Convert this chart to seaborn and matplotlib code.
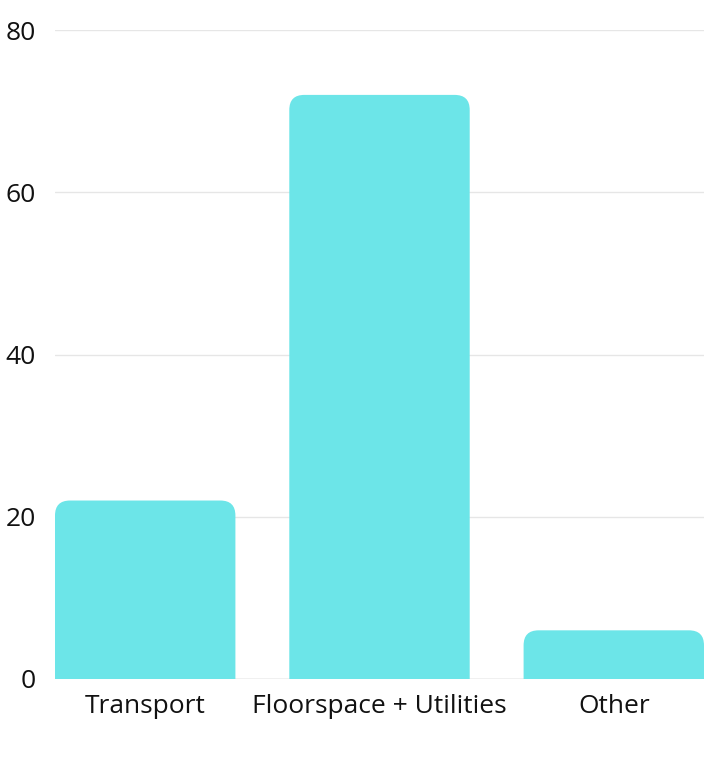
import matplotlib
matplotlib.use("Agg")
import matplotlib.pyplot as plt
from matplotlib.patches import FancyBboxPatch
import pandas as pd
import seaborn as sns

categories = ["Transport", "Floorspace + Utilities", "Other"]
values = [22, 72, 6]
bar_color = "#6CE5E8"

sns.set_theme(style="white")
plt.rcParams["font.family"] = ["Open Sans", "DejaVu Sans"]

df = pd.DataFrame({"category": categories, "value": values})

fig = plt.figure(figsize=(7.1, 7.7), dpi=100)
ax = fig.add_axes([55 / 710, 91 / 770, 649 / 710, 649 / 770])

sns.barplot(data=df, x="category", y="value", color=bar_color, width=0.77,
            saturation=1, ax=ax, zorder=3)

ax.set_xlim(-0.385, 2.385)
ax.set_ylim(0, 80)
ax.set_yticks([0, 20, 40, 60, 80])
ax.set_xlabel("")
ax.set_ylabel("")
for s in ax.spines.values():
    s.set_visible(False)
ax.grid(axis="y", color="#E6E6E6", linewidth=1, zorder=0)
ax.axhline(0, color="#C8C8C8", linewidth=1, zorder=1)
ax.tick_params(axis="y", length=0, pad=14, labelsize=19, labelcolor="#111111")
ax.tick_params(axis="x", length=0, pad=11, labelsize=19, labelcolor="#111111")

# rounded top corners: swap each bar for a rounded patch that dips below 0
# and gets clipped by the axes, so only the top corners stay round
fig.canvas.draw()
px_per_x = ax.transData.transform((1, 0))[0] - ax.transData.transform((0, 0))[0]
px_per_y = ax.transData.transform((0, 1))[1] - ax.transData.transform((0, 0))[1]
r_px = 15
r_x = r_px / px_per_x
aspect = px_per_x / px_per_y
extra = 3 * r_x * aspect
for p in list(ax.patches):
    x, y = p.get_x(), p.get_y()
    w, h = p.get_width(), p.get_height()
    p.remove()
    ax.add_patch(FancyBboxPatch((x, y - extra), w, h + extra,
                                boxstyle=f"round,pad=0,rounding_size={r_x}",
                                mutation_aspect=aspect, clip_on=True,
                                facecolor=bar_color, edgecolor="none", zorder=3))

fig.savefig("out.png", dpi=100)
